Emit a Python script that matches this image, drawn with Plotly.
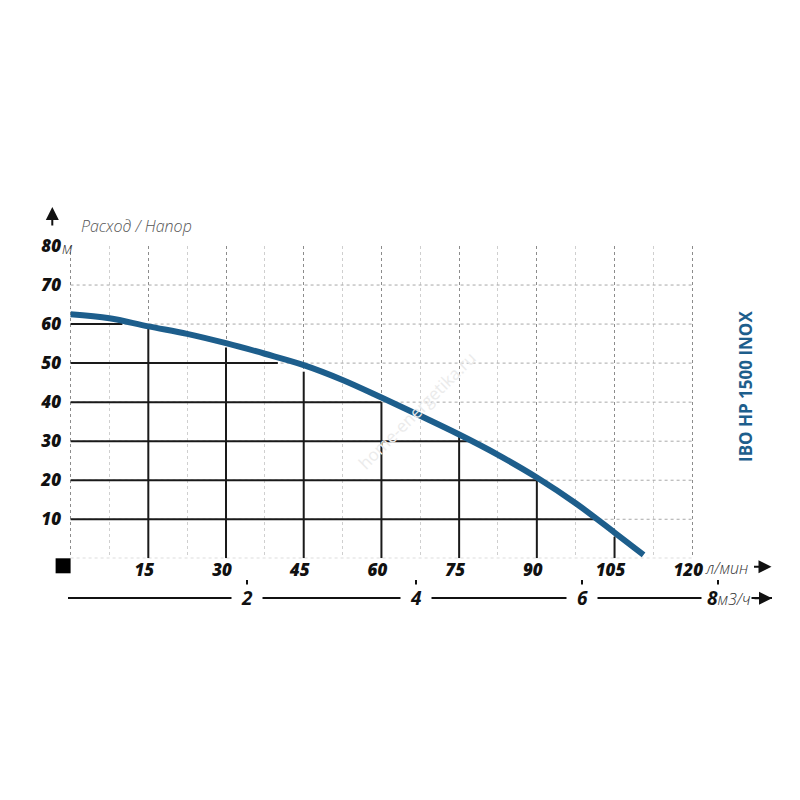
import plotly.graph_objects as go

# характеристика насоса IBO HP 1500 INOX: расход (л/мин) / напор (м)
flow = [0, 7.5, 15, 22.5, 30, 37.5, 45, 52.5, 60, 67.5, 75, 82.5, 90, 97.5, 105, 110.6]
head = [62.5, 61.5, 59.4, 57.5, 55.1, 52.4, 49.5, 45.7, 41.2, 36.5, 31.7, 26.5, 20.7, 14.1, 6.6, 0.9]

# black reading lines
h_levels = [60, 50, 40, 30, 20, 10]
h_ends = [10, 40, 60, 77, 90, 101.3]
q_levels = [15, 30, 45, 60, 75, 90, 105]
q_tops = [59.5, 54, 47.8, 40, 31.5, 20, 5.5]

q_ticks = [0, 15, 30, 45, 60, 75, 90, 105, 120]
q_minor = [7.5, 22.5, 37.5, 52.5, 67.5, 82.5, 97.5, 112.5]
h_ticks = [10, 20, 30, 40, 50, 60, 70, 80]
h_grid = [0, 10, 20, 30, 40, 50, 60, 70]
m3h_labels = ['2', '4', '6', '8']
m3h_pos = [34, 66.6, 98.7, 125]

title = 'IBO HP 1500 INOX'
blue = '#1d5e8c'
num_font = dict(family='Open Sans', size=17, color='#111', weight=800, style='italic')
big_font = dict(family='Open Sans', size=19, color='#111', weight=800, style='italic')
unit_font = dict(family='Open Sans', size=16, color='#333', weight=300, style='italic')

# page pixels (the html body adds an 8px offset)
OFF = 8
W = H = 800 - 2 * OFF
px_per_q = 5.1775
left, right, top, bottom = 68.4 - OFF, 772 - OFF, 246 - OFF, 620 - OFF
x0_px, y0_px = 71 - OFF, 558.3 - OFF
pw, ph = right - left, bottom - top


def px(x):
    return (x - OFF - left) / pw


def py(y):
    return (bottom - (y - OFF)) / ph


y_dom0 = (bottom - y0_px) / ph
m3h_y = py(598.3)
px0 = (x0_px - left) / pw

fig = go.Figure()

gx, gy = [], []
for lvl in h_grid:
    gx += [0, 120, None]
    gy += [lvl, lvl, None]
fig.add_trace(go.Scatter(x=gx, y=gy, mode='lines', hoverinfo='skip',
                         line=dict(color='#a8a8a8', width=1, dash='dot')))

lx, ly = [], []
for lvl, end in zip(h_levels, h_ends):
    lx += [0, end, None]
    ly += [lvl, lvl, None]
for q, t in zip(q_levels, q_tops):
    lx += [q, q, None]
    ly += [0, t, None]
fig.add_trace(go.Scatter(x=lx, y=ly, mode='lines', hoverinfo='skip',
                         line=dict(color='#1a1a1a', width=2)))

fig.add_trace(go.Scatter(x=flow, y=head, mode='lines', line_shape='spline',
                         line=dict(color=blue, width=6)))

# m3/h scale
fig.add_trace(go.Scatter(x=[], y=[], xaxis='x2', hoverinfo='skip'))

x_range = [-(x0_px - left) / px_per_q, (right - x0_px) / px_per_q]

fig.update_layout(
    width=W, height=H,
    margin=dict(l=left, r=W - right, t=top, b=H - bottom, pad=0, autoexpand=False),
    paper_bgcolor='white', plot_bgcolor='white',
    showlegend=False,
    xaxis=dict(range=x_range, domain=[0, 1], tickmode='array', tickvals=q_ticks,
               ticktext=['' if v == 0 else str(v) for v in q_ticks], automargin=False,
               showgrid=True, gridcolor='#8c8c8c', griddash='dot', gridwidth=1,
               zeroline=False, showline=False, ticks='', tickfont=num_font,
               ticklabelshift=-4, ticklabelstandoff=0,
               minor=dict(tickmode='array', tickvals=q_minor, showgrid=True,
                          gridcolor='#cfcfcf', griddash='dot', gridwidth=1)),
    xaxis2=dict(range=x_range, overlaying='x', anchor='free', position=m3h_y,
                side='top', showgrid=False, zeroline=False, showline=True,
                automargin=False, linecolor='#111', linewidth=2, ticks='outside',
                ticklen=17, tickwidth=1.5, tickcolor='#111', tickmode='array',
                tickvals=m3h_pos, showticklabels=False),
    yaxis=dict(range=[0, 80], domain=[y_dom0, 1], tickmode='array', tickvals=h_ticks,
               showgrid=False, zeroline=False, showline=False, ticks='', automargin=False,
               tickfont=num_font, ticklabelstandoff=6),
)

ann = []
for lab, pos in zip(m3h_labels, m3h_pos):
    if lab == m3h_labels[-1]:
        ann.append(dict(x=pos, xref='x2', y=m3h_y, yref='paper', xanchor='left',
                        yanchor='middle', xshift=-17,
                        text='&nbsp;<b><i>' + lab + '</i></b><span style="font-size:16px;font-weight:300;color:#333"><i>м3/ч</i></span>',
                        showarrow=False, bgcolor='white', borderpad=0, font=big_font))
    else:
        ann.append(dict(x=pos, xref='x2', y=m3h_y, yref='paper', xanchor='center',
                        yanchor='middle', text='&nbsp;&nbsp;<b><i>' + lab + '</i></b>&nbsp;&nbsp;',
                        showarrow=False, bgcolor='white', borderpad=0, font=big_font))

ann += [
    dict(x=120, xref='x', y=0, yref='y', yshift=-10, xanchor='left', yanchor='middle',
         xshift=11, text='л/мин', showarrow=False, font=unit_font),
    dict(x=px0, xref='paper', y=80, yref='y', xanchor='left', yanchor='middle',
         xshift=-11, yshift=-2, text='м', showarrow=False, font=unit_font),
    dict(x=px(79), xref='paper', y=py(226), yref='paper',
         xanchor='left', yanchor='middle', text='Расход / Напор', showarrow=False,
         font=dict(family='Open Sans', size=16, color='#555', weight=300, style='italic')),
    dict(x=px(745), xref='paper', y=py(386), yref='paper', xanchor='center',
         yanchor='middle', text='<b>' + title + '</b>', textangle=-90, showarrow=False,
         font=dict(family='Open Sans', size=17, color=blue)),
    dict(x=px(416.7), xref='paper', y=py(410), yref='paper', xanchor='center',
         yanchor='middle', text='home-energetika.ru', textangle=-45, showarrow=False,
         font=dict(family='Open Sans', size=17, color='#ebebeb')),
    # axis arrows
    dict(x=px(771.5), xref='paper', y=py(566.7), yref='paper',
         ax=-19, ay=0, text='', showarrow=True, arrowhead=2, arrowsize=1.3,
         arrowwidth=2, arrowcolor='#111'),
    dict(x=1, xref='paper', y=m3h_y, yref='paper',
         ax=-19, ay=0, text='', showarrow=True, arrowhead=2, arrowsize=1.3,
         arrowwidth=2, arrowcolor='#111'),
    dict(x=px(52.7), xref='paper', y=py(207), yref='paper',
         ax=0, ay=20, text='', showarrow=True, arrowhead=2, arrowsize=1.3,
         arrowwidth=2, arrowcolor='#111'),
]
fig.update_layout(annotations=ann)

# black square at the origin
fig.add_shape(type='rect', xref='paper', yref='paper', xsizemode='pixel', ysizemode='pixel',
              xanchor=px0, yanchor=y_dom0, x0=-15, x1=0, y0=-15, y1=0,
              fillcolor='black', line=dict(width=0))

fig.write_html('out.html')
